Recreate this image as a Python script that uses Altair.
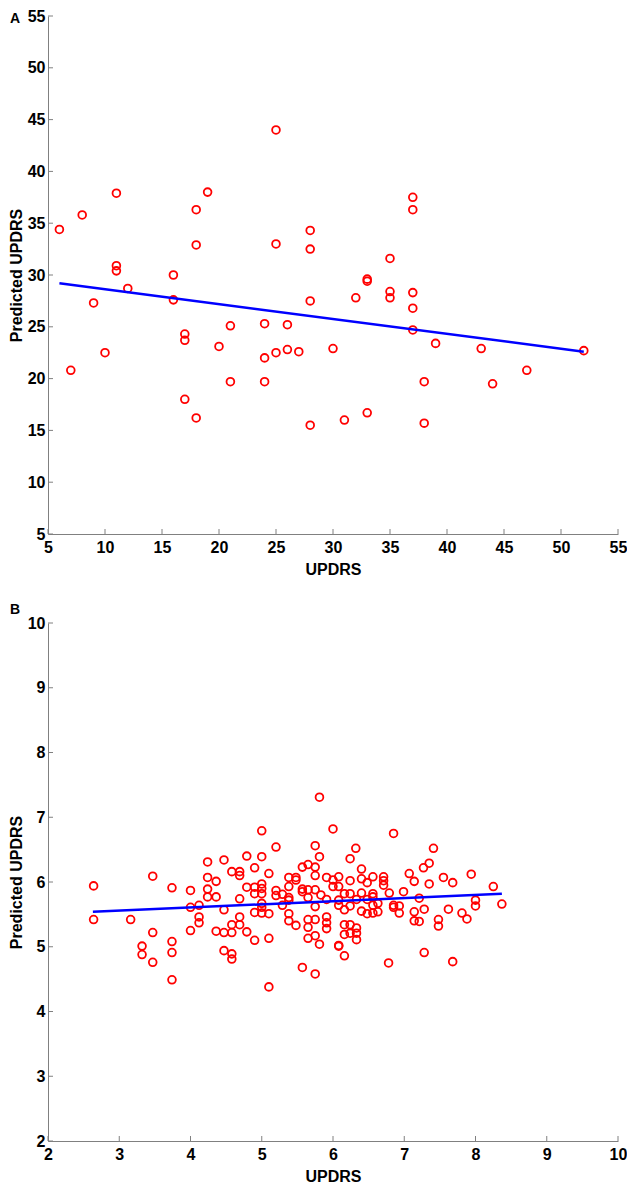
import altair as alt
import pandas as pd

# ---------------- Panel A data ----------------
a_x = [6, 7, 8, 9, 10, 11, 11, 11, 12, 16, 16, 17, 17, 17, 18, 18, 18, 19, 20, 21, 21,
       24, 24, 24, 25, 25, 25, 26, 26, 27, 28, 28, 28, 28, 30, 31, 32, 33, 33, 33,
       35, 35, 35, 37, 37, 37, 37, 37, 38, 38, 39, 43, 44, 47, 52]
a_y = [34.4, 20.8, 35.8, 27.3, 22.5, 37.9, 30.9, 30.4, 28.7, 30.0, 27.6, 24.3, 23.7, 18.0,
       36.3, 32.9, 16.2, 38.0, 23.1, 25.1, 19.7, 25.3, 22.0, 19.7, 44.0, 33.0, 22.5, 25.2,
       22.8, 22.6, 34.3, 32.5, 27.5, 15.5, 22.9, 16.0, 27.8, 29.6, 29.4, 16.7, 31.6, 28.4,
       27.8, 37.5, 36.3, 28.3, 26.8, 24.7, 19.7, 15.7, 23.4, 22.9, 19.5, 20.8, 22.7]
a_fit_x = [6, 52]
a_fit_y = [29.2, 22.6]
a_ticks = [5, 10, 15, 20, 25, 30, 35, 40, 45, 50, 55]

# ---------------- Panel B data ----------------
b_x = [2.64, 2.64, 3.16, 3.47, 3.47, 3.32, 3.32, 3.47,
       3.74, 3.74, 3.74, 3.74,
       4.0, 4.0, 4.0,
       4.12, 4.12, 4.12,
       4.24, 4.24, 4.24, 4.24,
       4.36, 4.36, 4.36,
       4.47, 4.47, 4.47, 4.47,
       4.58, 4.58, 4.58, 4.58, 4.58,
       4.69, 4.69, 4.69, 4.69, 4.69,
       4.79, 4.79, 4.79,
       4.90, 4.90, 4.90, 4.90, 4.90,
       5.0, 5.0, 5.0, 5.0, 5.0, 5.0, 5.0, 5.0,
       5.10, 5.10, 5.10, 5.10,
       5.20, 5.20, 5.20,
       5.29, 5.29,
       5.38, 5.38, 5.38, 5.38, 5.38, 5.38,
       5.48, 5.48, 5.48,
       5.57, 5.57, 5.57, 5.57,
       5.65, 5.65, 5.65, 5.65, 5.65, 5.65,
       5.75, 5.75, 5.75, 5.75, 5.75, 5.75, 5.75, 5.75,
       5.81, 5.81, 5.81,
       5.83,
       5.91, 5.91, 5.91, 5.91, 5.91,
       6.0, 6.0, 6.0,
       6.08, 6.08, 6.08, 6.08, 6.08, 6.08,
       6.16, 6.16, 6.16, 6.16, 6.16,
       6.24, 6.24, 6.24, 6.24, 6.24, 6.24,
       6.32, 6.33, 6.33, 6.33, 6.33,
       6.40, 6.40, 6.40, 6.40,
       6.48, 6.48, 6.48,
       6.56, 6.56, 6.56, 6.56, 6.56,
       6.63, 6.63,
       6.71, 6.71, 6.71,
       6.79, 6.78,
       6.85, 6.85, 6.85,
       6.93, 6.93,
       6.99,
       7.07, 7.14, 7.14, 7.14,
       7.21, 7.21,
       7.27, 7.28, 7.28,
       7.35, 7.35,
       7.41,
       7.48, 7.48,
       7.55,
       7.62,
       7.68, 7.68,
       7.81, 7.88,
       7.94,
       8.0, 8.0,
       8.25,
       8.37]
b_y = [5.94, 5.42, 5.42, 6.09, 5.22, 5.01, 4.88, 4.76,
       5.91, 5.08, 4.91, 4.49,
       5.87, 5.61, 5.25,
       5.64, 5.46, 5.37,
       6.31, 6.07, 5.89, 5.77,
       6.01, 5.77, 5.24,
       6.34, 5.57, 5.22, 4.94,
       6.16, 5.34, 5.22, 4.89, 4.81,
       6.16, 6.10, 5.74, 5.46, 5.34,
       6.40, 5.92, 5.23,
       6.22, 5.92, 5.82, 5.53, 5.10,
       6.79, 6.39, 5.97, 5.90, 5.82, 5.67, 5.61, 5.52,
       6.13, 5.51, 5.13, 4.38,
       6.54, 5.87, 5.79,
       5.81, 5.64,
       6.07, 5.93, 5.76, 5.72, 5.51, 5.40,
       6.07, 6.03, 5.33,
       6.23, 5.89, 5.85, 4.68,
       6.27, 5.88, 5.76, 5.42, 5.30, 5.13,
       6.56, 6.23, 6.10, 5.88, 5.62, 5.42, 5.17, 4.58,
       7.31, 6.39, 5.04,
       5.80,
       6.07, 5.73, 5.46, 5.37, 5.28,
       6.82, 6.03, 5.93,
       6.08, 5.93, 5.72, 5.64, 5.02, 5.01,
       5.82, 5.57, 5.34, 5.19, 4.86,
       6.36, 6.02, 5.82, 5.63, 5.34, 5.21,
       6.52, 5.73, 5.29, 5.21, 5.11,
       6.20, 6.05, 5.83, 5.55,
       5.99, 5.73, 5.51,
       6.08, 5.82, 5.77, 5.64, 5.52,
       5.67, 5.54,
       6.08, 6.02, 5.95,
       5.83, 4.75,
       6.75, 5.64, 5.61,
       5.63, 5.52,
       5.85,
       6.13, 6.01, 5.54, 5.40,
       5.75, 5.39,
       6.22, 5.58, 4.91,
       6.29, 5.97,
       6.52,
       5.42, 5.32,
       6.07,
       5.58,
       5.99, 4.77,
       5.52, 5.43,
       6.12,
       5.72, 5.63,
       5.93,
       5.66]
b_fit_x = [2.63, 8.37]
b_fit_y = [5.54, 5.82]
b_ticks = [2, 3, 4, 5, 6, 7, 8, 9, 10]

letters = ["A", "B"]

W = 570
H = 518
FONT = "Liberation Sans"
GRAY = "#808080"
FS = 16


def panel(xs, ys, fx, fy, dom, ticks, letter, letter_y):
    pts = pd.DataFrame({"x": xs, "y": ys})
    fit = pd.DataFrame({"x": fx, "y": fy})
    sc_x = alt.Scale(domain=dom, nice=False, zero=False)
    sc_y = alt.Scale(domain=dom, nice=False, zero=False)
    ax_x = alt.Axis(values=ticks, title="UPDRS", format="d", labelFlush=False,
                    labelOverlap=False, ticks=False, labelPadding=5, titlePadding=6)
    ax_y = alt.Axis(values=ticks, title="Predicted UPDRS", format="d", labelOverlap=False,
                    ticks=False, labelPadding=3, titlePadding=3)

    points = alt.Chart(pts).mark_point(
        shape="circle", filled=False, color="#FF0000", size=60, strokeWidth=1.8, opacity=1
    ).encode(
        x=alt.X("x:Q", scale=sc_x, axis=ax_x),
        y=alt.Y("y:Q", scale=sc_y, axis=ax_y),
    )
    line = alt.Chart(fit).mark_line(color="#0000FF", strokeWidth=2.5).encode(
        x=alt.X("x:Q", title="UPDRS"), y=alt.Y("y:Q", title="Predicted UPDRS")
    )
    xt = alt.Chart(pd.DataFrame({"x": ticks})).mark_rule(color=GRAY, strokeWidth=1).encode(
        x=alt.X("x:Q", title="UPDRS"), y=alt.value(H), y2=alt.value(H - 5)
    )
    yt = alt.Chart(pd.DataFrame({"y": ticks})).mark_rule(color=GRAY, strokeWidth=1).encode(
        y=alt.Y("y:Q", title="Predicted UPDRS"), x=alt.value(0), x2=alt.value(5)
    )
    lab = alt.Chart(pd.DataFrame({"t": [letter]})).mark_text(
        font=FONT, fontSize=14, fontWeight="bold", align="left", baseline="alphabetic",
        color="black"
    ).encode(text="t:N", x=alt.value(-38), y=alt.value(letter_y))
    return alt.layer(points, line, xt, yt, lab).properties(width=W, height=H)


pa = panel(a_x, a_y, a_fit_x, a_fit_y, [5, 55], a_ticks, letters[0], 7)
pb = panel(b_x, b_y, b_fit_x, b_fit_y, [2, 10], b_ticks, letters[1], -9)

chart = alt.vconcat(pa, pb, spacing=26).properties(padding=0).configure_view(
    stroke=None
).configure_axis(
    domainColor=GRAY, domainWidth=1, grid=False,
    labelFont=FONT, labelFontSize=FS, labelFontWeight="bold", labelColor="black",
    titleFont=FONT, titleFontSize=FS, titleFontWeight="bold", titleColor="black",
)

chart.save("out.html", embed_options={"renderer": "svg", "actions": False})
